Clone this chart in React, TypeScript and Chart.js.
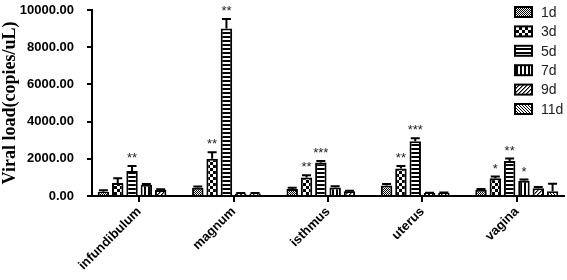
import React, { useEffect, useRef } from "react";
import { Chart, registerables } from "chart.js";

Chart.register(...registerables);

const categories = ["infundibulum", "magnum", "isthmus", "uterus", "vagina"];
const seriesLabels = ["1d", "3d", "5d", "7d", "9d", "11d"];

const d1 = [230, 450, 380, 560, 330];
const d3 = [700, 2000, 1000, 1480, 950];
const d5 = [1350, 9000, 1800, 2950, 1880];
const d7 = [600, 140, 460, 160, 820];
const d9 = [320, 140, 250, 170, 420];
const d11 = [null, null, null, null, 260];

const e1 = [80, 60, 60, 80, 50];
const e3 = [260, 350, 120, 130, 100];
const e5 = [260, 520, 80, 150, 130];
const e7 = [40, 20, 60, 20, 70];
const e9 = [40, 20, 30, 20, 60];
const e11 = [0, 0, 0, 0, 400];

const s1 = ["", "", "", "", ""];
const s3 = ["", "**", "**", "**", "*"];
const s5 = ["**", "**", "***", "***", "**"];
const s7 = ["", "", "", "", "*"];
const s9 = ["", "", "", "", ""];
const s11 = ["", "", "", "", ""];

const yTicks = [0, 2000, 4000, 6000, 8000, 10000];

const seriesValues = [d1, d3, d5, d7, d9, d11];
const seriesErrors = [e1, e3, e5, e7, e9, e11];
const seriesStars = [s1, s3, s5, s7, s9, s11];

function makePattern(kind: number): CanvasPattern | string {
  const c = document.createElement("canvas");
  const ctx = c.getContext("2d")!;
  let w = 4, h = 4;
  if (kind === 0) { w = 2; h = 2; }
  if (kind === 1) { w = 6; h = 6; }
  if (kind === 2) { w = 1; h = 4; }
  if (kind === 3) { w = 4; h = 1; }
  if (kind === 4) { w = 4; h = 4; }
  if (kind === 5) { w = 3; h = 3; }
  c.width = w; c.height = h;
  ctx.fillStyle = "#fff";
  ctx.fillRect(0, 0, w, h);
  ctx.fillStyle = "#000";
  if (kind === 0) {
    ctx.fillRect(0, 0, 1, 1);
    ctx.fillRect(1, 1, 1, 1);
  } else if (kind === 1) {
    ctx.fillRect(0, 0, 3, 3);
    ctx.fillRect(3, 3, 3, 3);
  } else if (kind === 2) {
    ctx.fillRect(0, 0, 1, 2);
  } else if (kind === 3) {
    ctx.fillRect(0, 0, 2, 1);
  } else if (kind === 4) {
    for (let i = 0; i < 4; i++) ctx.fillRect(3 - i, i, 1, 1);
    ctx.fillStyle = "rgba(0,0,0,0.5)";
    for (let i = 0; i < 4; i++) ctx.fillRect((4 - i) % 4, i, 1, 1);
  } else if (kind === 5) {
    for (let i = 0; i < 3; i++) ctx.fillRect(i, i, 1, 1);
  }
  const p = ctx.createPattern(c, "repeat");
  return p || "#888";
}

export default function App() {
  const ref = useRef<HTMLCanvasElement | null>(null);

  useEffect(() => {
    if (!ref.current) return;
    const patterns = seriesLabels.map((_, i) => makePattern(i));

    const overlay = {
      id: "overlay",
      afterDatasetsDraw(chart: any) {
        const ctx = chart.ctx;
        const yScale = chart.scales.y;
        ctx.save();
        seriesValues.forEach((vals, i) => {
          const meta = chart.getDatasetMeta(i);
          vals.forEach((v, j) => {
            if (v === null || v === undefined) return;
            const bar = meta.data[j];
            if (!bar) return;
            const err = seriesErrors[i][j] || 0;
            const x = bar.x;
            const yTop = yScale.getPixelForValue((v as number) + err);
            if (err > 0) {
              ctx.strokeStyle = "#000";
              ctx.lineWidth = 2;
              ctx.beginPath();
              ctx.moveTo(x, bar.y);
              ctx.lineTo(x, yTop);
              ctx.moveTo(x - 4.5, yTop);
              ctx.lineTo(x + 4.5, yTop);
              ctx.stroke();
            }
            const st = seriesStars[i][j];
            if (st) {
              ctx.fillStyle = "#222";
              ctx.font = "13px 'Liberation Sans', Arial, sans-serif";
              ctx.textAlign = "center";
              ctx.textBaseline = "bottom";
              ctx.fillText(st, x, yTop - 1);
            }
          });
        });
        // legend
        const lx = 515, ly0 = 12, step = 19.4;
        seriesLabels.forEach((lab, i) => {
          const cy = ly0 + i * step;
          ctx.fillStyle = patterns[i] as any;
          ctx.fillRect(lx, cy - 5, 17, 10);
          ctx.strokeStyle = "#000";
          ctx.lineWidth = 2;
          ctx.strokeRect(lx, cy - 5, 17, 10);
          ctx.fillStyle = "#222";
          ctx.font = "14px 'Liberation Sans', Arial, sans-serif";
          ctx.textAlign = "left";
          ctx.textBaseline = "middle";
          ctx.fillText(lab, 541, cy + 1);
        });
        ctx.restore();
      },
    };

    const chart = new Chart(ref.current, {
      type: "bar",
      data: {
        labels: categories,
        datasets: seriesValues.map((vals, i) => ({
          label: seriesLabels[i],
          data: vals as any,
          backgroundColor: patterns[i] as any,
          borderColor: "#000",
          borderWidth: 2,
          barPercentage: 0.8,
          categoryPercentage: 0.91,
        })),
      },
      options: {
        animation: false,
        responsive: false,
        layout: { autoPadding: false, padding: { top: 10, right: 3, left: 0, bottom: 0 } },
        plugins: { legend: { display: false }, tooltip: { enabled: false } },
        scales: {
          x: {
            afterFit: (s: any) => { s.height = 84; s.paddingTop = 0; s.paddingBottom = 0; },
            border: { color: "#000", width: 2 },
            grid: {
              offset: false,
              drawOnChartArea: false,
              drawTicks: true,
              tickLength: 6,
              color: "#000",
              lineWidth: 2,
            },
            ticks: {
              color: "#000",
              font: { family: "'Liberation Sans', Arial, sans-serif", size: 13, weight: "bold" },
              minRotation: 45,
              maxRotation: 45,
              padding: 2,
            },
          },
          y: {
            min: 0,
            max: 10000,
            afterFit: (s: any) => { s.width = 92; s.paddingTop = 0; s.paddingBottom = 0; },
            afterBuildTicks: (s: any) => { s.ticks = yTicks.map((v) => ({ value: v })); },
            border: { color: "#000", width: 2 },
            grid: {
              drawOnChartArea: false,
              drawTicks: true,
              tickLength: 5,
              color: "#000",
              lineWidth: 2,
            },
            ticks: {
              color: "#000",
              padding: 13,
              font: { family: "'Liberation Sans', Arial, sans-serif", size: 13, weight: "bold" },
              callback: (v: any) => Number(v).toFixed(2),
            },
            title: {
              display: true,
              text: "Viral load(copies/uL)",
              color: "#000",
              padding: { top: 0, bottom: 0 },
              font: { family: "'Liberation Serif', 'Times New Roman', serif", size: 18, weight: "bold" },
            },
          },
        },
      },
      plugins: [overlay],
    } as any);
    return () => chart.destroy();
  }, []);

  return (
    <div style={{ position: "absolute", left: 0, top: 0, width: 567, height: 280, background: "#fff" }}>
      <canvas ref={ref} width={567} height={280} />
    </div>
  );
}
